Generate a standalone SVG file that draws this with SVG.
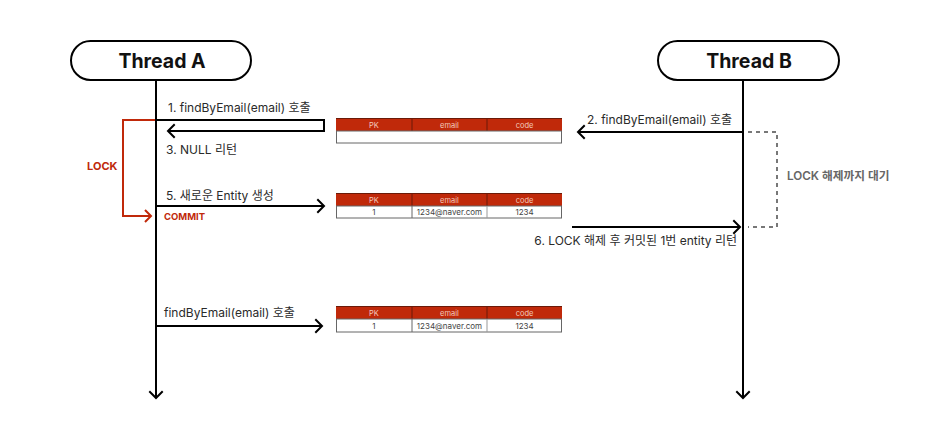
<svg xmlns="http://www.w3.org/2000/svg" width="932" height="432" viewBox="0 0 932 432">
<defs>
<style>
text{font-family:Inter,"Noto Sans","Noto Sans CJK KR",sans-serif}
.pill{fill:#fff;stroke:#000;stroke-width:2}
.title{font-size:19.5px;font-weight:700;fill:#111;text-anchor:middle}
.line{stroke:#000;stroke-width:2;fill:none}
.head{fill:none;stroke:#000;stroke-width:2;stroke-linecap:square}
.red{stroke:#c0290a;stroke-width:2;fill:none}
.redhead{fill:none;stroke:#c0290a;stroke-width:2}
.dash{stroke:#777;stroke-width:2;fill:none;stroke-dasharray:4 4}
.lbl{font-size:12px;fill:#2a2a2a}
.th{fill:#c0290a}
.thl{stroke:#6b1a08;stroke-width:1}
.tht{font-size:7.5px;fill:#f3c9bd;text-anchor:middle}
.tb{fill:#fff;stroke:#666;stroke-width:1}
.tbt{font-size:8px;fill:#444;text-anchor:middle}
</style>
<g id="tbl">
<rect x="0" y="0" width="226" height="13" class="th"/>
<line x1="76" y1="0" x2="76" y2="13" class="thl"/>
<line x1="151" y1="0" x2="151" y2="13" class="thl"/>
<line x1="0" y1="0.5" x2="226" y2="0.5" class="thl"/>
<text x="38" y="9.5" class="tht">PK</text>
<text x="113.5" y="9.5" class="tht">email</text>
<text x="188.5" y="9.5" class="tht">code</text>
</g>
</defs>

<g id="threadA">
<rect x="71" y="41" width="180" height="39" rx="19.5" class="pill"/>
<text x="162" y="68" class="title">Thread A</text>
</g>
<g id="threadB">
<rect x="658" y="41" width="181" height="39" rx="19.5" class="pill"/>
<text x="749" y="68" class="title">Thread B</text>
</g>

<g id="table1">
<use href="#tbl" x="336" y="118"/>
<rect x="336.5" y="131" width="225" height="12" class="tb" stroke="#bbb"/>
</g>
<g id="table2">
<use href="#tbl" x="336" y="193"/>
<rect x="336.5" y="206" width="225" height="12" class="tb"/>
<line x1="412" y1="206" x2="412" y2="218" stroke="#666"/>
<line x1="487" y1="206" x2="487" y2="218" stroke="#999"/>
<text x="374" y="215" class="tbt">1</text>
<text x="449.5" y="215" class="tbt">1234@naver.com</text>
<text x="524.5" y="215" class="tbt">1234</text>
</g>
<g id="table3">
<use href="#tbl" x="336" y="306"/>
<rect x="336.5" y="319" width="225" height="13" class="tb"/>
<line x1="412" y1="319" x2="412" y2="332" stroke="#666"/>
<line x1="487" y1="319" x2="487" y2="332" stroke="#999"/>
<text x="374" y="328.5" class="tbt">1</text>
<text x="449.5" y="328.5" class="tbt">1234@naver.com</text>
<text x="524.5" y="328.5" class="tbt">1234</text>
</g>

<g id="connectors">
<line x1="156" y1="80" x2="156" y2="398" class="line"/>
<polyline points="150,392 156,398 162,392" class="head"/>
<line x1="743" y1="80" x2="743" y2="398" class="line"/>
<polyline points="737,392 743,398 749,392" class="head"/>

<polyline points="156,120 324,120 324,131 168,131" class="line"/>
<polyline points="174,125 168,131 174,137" class="head"/>

<polyline points="155,120 123,120 123,216 150,216" class="red"/>
<polyline points="145,210 151,216 145,222" class="redhead"/>

<line x1="157" y1="206" x2="323" y2="206" class="line"/>
<polyline points="318,200 324,206 318,212" class="head"/>

<line x1="157" y1="326" x2="321" y2="326" class="line"/>
<polyline points="316,320 322,326 316,332" class="head"/>

<line x1="742" y1="132" x2="579" y2="132" class="line"/>
<polyline points="584,126 578,132 584,138" class="head"/>

<polyline points="748,132 777,132 777,227 748,227" class="dash"/>

<line x1="572" y1="227" x2="739" y2="227" class="line"/>
<polyline points="734,221 740,227 734,233" class="head"/>
</g>

<g id="labels">
<text x="168" y="112" class="lbl">1. findByEmail(email) 호출</text>
<text x="166" y="154" class="lbl">3. NULL 리턴</text>
<text x="166" y="200" class="lbl">5. 새로운 Entity 생성</text>
<text x="164" y="220" font-size="9.5" font-weight="700" fill="#c0290a">COMMIT</text>
<text x="87" y="170" font-size="11" font-weight="700" fill="#c0290a">LOCK</text>
<text x="732" y="124" class="lbl" text-anchor="end">2. findByEmail(email) 호출</text>
<text x="787" y="180" font-size="11.7" font-weight="600" fill="#666">LOCK 해제까지 대기</text>
<text x="737" y="245" class="lbl" text-anchor="end">6. LOCK 해제 후 커밋된 1번 entity 리턴</text>
<text x="164" y="317" class="lbl">findByEmail(email) 호출</text>
</g>
</svg>
